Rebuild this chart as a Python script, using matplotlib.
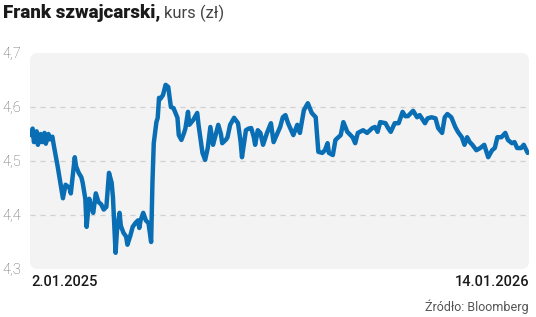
import matplotlib
matplotlib.use("Agg")
import matplotlib.pyplot as plt
from matplotlib.patches import FancyBboxPatch
import pandas as pd

# day offsets from 2 Jan 2025 and CHF/PLN rate
days = [0, 1, 2, 4, 5, 7, 8, 10, 11, 13, 14, 16, 17, 20, 22, 24, 26, 29, 30, 33,
        34, 36, 38, 39, 41, 42, 44, 45, 47, 49, 51, 53, 55, 57, 59, 61, 62, 64, 65, 67,
        68, 70, 72, 73, 75, 77, 79, 81, 82, 83, 85, 87, 89, 91, 92, 93, 95, 96, 97, 98,
        100, 102, 104, 106, 108, 111, 112, 114, 116, 117, 119, 120, 123, 126, 127, 129, 130, 132, 134, 136,
        138, 140, 142, 144, 145, 148, 149, 151, 154, 157, 159, 160, 163, 165, 167, 169, 170, 172, 174, 176,
        179, 182, 184, 187, 189, 191, 193, 195, 199, 202, 204, 207, 210, 213, 216, 218, 221, 223, 225, 226,
        229, 231, 235, 237, 240, 244, 246, 248, 252, 255, 259, 261, 263, 265, 269, 271, 273, 276, 279, 282,
        284, 286, 290, 293, 295, 299, 301, 304, 307, 309, 312, 314, 316, 319, 322, 324, 327, 329, 331, 333,
        335, 338, 341, 344, 347, 350, 352, 354, 357, 360, 362, 365, 367, 369, 372, 374, 377]
rate = [4.548, 4.560, 4.535, 4.555, 4.530, 4.550, 4.535, 4.552, 4.532, 4.550, 4.540, 4.545, 4.530, 4.490, 4.460, 4.431, 4.456, 4.450, 4.440, 4.507,
        4.490, 4.478, 4.470, 4.460, 4.430, 4.378, 4.430, 4.420, 4.404, 4.440, 4.424, 4.420, 4.410, 4.415, 4.478, 4.460, 4.433, 4.330, 4.370, 4.404,
        4.380, 4.367, 4.360, 4.345, 4.360, 4.378, 4.385, 4.390, 4.376, 4.390, 4.404, 4.390, 4.385, 4.350, 4.460, 4.533, 4.572, 4.580, 4.617, 4.615,
        4.622, 4.641, 4.637, 4.600, 4.598, 4.580, 4.548, 4.539, 4.552, 4.560, 4.591, 4.567, 4.576, 4.589, 4.567, 4.533, 4.515, 4.502, 4.524, 4.563,
        4.530, 4.548, 4.567, 4.550, 4.533, 4.540, 4.544, 4.567, 4.580, 4.570, 4.535, 4.507, 4.557, 4.560, 4.561, 4.544, 4.530, 4.557, 4.552, 4.530,
        4.552, 4.570, 4.535, 4.552, 4.563, 4.581, 4.585, 4.570, 4.548, 4.567, 4.552, 4.594, 4.607, 4.589, 4.581, 4.517, 4.515, 4.520, 4.533, 4.515,
        4.511, 4.539, 4.548, 4.572, 4.554, 4.544, 4.533, 4.552, 4.557, 4.552, 4.561, 4.563, 4.554, 4.572, 4.570, 4.561, 4.554, 4.570, 4.570, 4.591,
        4.583, 4.583, 4.593, 4.581, 4.585, 4.570, 4.579, 4.581, 4.579, 4.561, 4.552, 4.581, 4.587, 4.581, 4.563, 4.554, 4.544, 4.530, 4.544, 4.535,
        4.530, 4.520, 4.524, 4.530, 4.507, 4.520, 4.524, 4.544, 4.544, 4.552, 4.539, 4.533, 4.535, 4.524, 4.524, 4.530, 4.515]

yticks = [4.3, 4.4, 4.5, 4.6, 4.7]
ytick_labels = ["4,3", "4,4", "4,5", "4,6", "4,7"]
start_label = "2.01.2025"
end_label = "14.01.2026"

dates = pd.Timestamp("2025-01-02") + pd.to_timedelta(days, unit="D")

plt.rcParams["font.family"] = ["Roboto", "DejaVu Sans"]

W, H = 536, 317
fig = plt.figure(figsize=(W / 100, H / 100), dpi=100)
ax = fig.add_axes([30 / W, 1 - 269 / H, 499 / W, 216 / H])
ax.set_facecolor("none")

# rounded grey panel behind the plot
panel = FancyBboxPatch((0, 0), 1, 1, boxstyle="round,pad=0,rounding_size=0.016",
                       mutation_aspect=499 / 216, transform=ax.transAxes,
                       facecolor="#f3f3f3", edgecolor="none", zorder=0, clip_on=False)
ax.add_patch(panel)

for y in [4.4, 4.5, 4.6]:
    ax.axhline(y, color="#d0d0d0", lw=0.9, ls=(0, (4, 4)), zorder=1)

ax.plot(dates, rate, color="#0a6eb4", lw=3.2, solid_joinstyle="round",
        solid_capstyle="round", zorder=3)

ax.set_ylim(4.3, 4.7)
ax.set_xlim(dates[0] - pd.Timedelta(days=1), dates[-1] + pd.Timedelta(days=1))
ax.set_yticks(yticks)
ax.set_yticklabels(ytick_labels, fontsize=10.5, color="#666666", fontweight="light")
ax.tick_params(axis="y", length=0, pad=6)
ax.set_xticks([])
for s in ax.spines.values():
    s.set_visible(False)

# title: bold part + regular part
t1 = fig.text(3 / W, 1 - 13 / H, "Frank szwajcarski,", fontsize=13.5, fontweight="black",
              color="#1a1a1a", va="center", ha="left")
fig.canvas.draw()
bb = t1.get_window_extent()
fig.text(bb.x1 / W + 3 / W, 1 - 13 / H, "kurs (zł)", fontsize=12, color="#444444",
         va="center", ha="left")

fig.text(31 / W, 1 - 282 / H, start_label, fontsize=10.5, fontweight="medium",
         color="#1a1a1a", va="center", ha="left")
fig.text(529 / W, 1 - 282 / H, end_label, fontsize=10.5, fontweight="medium",
         color="#1a1a1a", va="center", ha="right")
fig.text(529 / W, 1 - 307 / H, "Źródło: Bloomberg", fontsize=9, color="#555555",
         va="center", ha="right")

fig.savefig("out.png", dpi=100)
